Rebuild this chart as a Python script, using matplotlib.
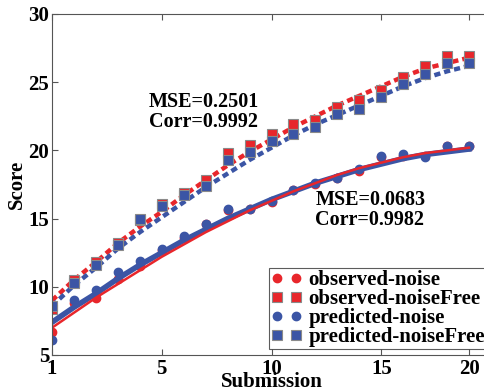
import matplotlib
matplotlib.use('Agg')
import matplotlib.pyplot as plt
import numpy as np

# submissions index (tick "1" sits on the left edge)
submission = np.arange(20)
xtick_pos = [0, 5, 10, 15, 19]
xtick_labels = ['1', '5', '10', '15', '20']

obs_noise = [6.7, 8.8, 9.2, 10.6, 11.5, 12.7, 13.6, 14.6, 15.6, 15.7,
             16.2, 17.1, 17.5, 18.0, 18.5, 19.5, 19.6, 19.6, 20.3, 20.3]
obs_free = [8.4, 10.5, 11.8, 13.2, 14.9, 16.1, 16.9, 17.8, 19.8, 20.4,
            21.2, 21.9, 22.2, 23.2, 23.7, 24.4, 25.4, 26.2, 26.9, 26.9]
pred_noise = [6.1, 9.0, 9.8, 11.1, 11.9, 12.8, 13.7, 14.6, 15.7, 15.7,
              16.3, 17.1, 17.6, 18.0, 18.6, 19.6, 19.7, 19.5, 20.3, 20.3]
pred_free = [8.6, 10.3, 11.6, 13.1, 15.0, 15.9, 16.7, 17.4, 19.3, 19.9,
             20.7, 21.2, 21.7, 22.7, 23.0, 23.9, 24.9, 25.6, 26.4, 26.4]

# fitted curves read at each submission
fit_obs_noise = [7.0, 8.1, 9.2, 10.2, 11.2, 12.2, 13.1, 14.0, 14.8, 15.6,
                 16.3, 17.0, 17.6, 18.2, 18.7, 19.1, 19.5, 19.8, 20.0, 20.2]
fit_pred_noise = [7.4, 8.5, 9.5, 10.6, 11.6, 12.5, 13.4, 14.2, 15.0, 15.7,
                  16.4, 17.0, 17.6, 18.1, 18.6, 19.0, 19.4, 19.7, 19.9, 20.1]
fit_obs_free = [9.0, 10.5, 11.8, 13.2, 14.4, 15.5, 16.7, 17.8, 18.9, 19.9,
                20.8, 21.7, 22.5, 23.3, 24.0, 24.7, 25.4, 26.0, 26.4, 26.8]
fit_pred_free = [8.6, 10.1, 11.4, 12.8, 14.0, 15.1, 16.2, 17.3, 18.3, 19.3,
                 20.2, 21.1, 21.9, 22.6, 23.3, 24.0, 24.7, 25.3, 25.8, 26.2]

red = '#e8262b'
blue = '#3b55a5'
edge = '#8a8a8a'

plt.rcParams['font.family'] = ['Liberation Serif', 'DejaVu Serif']
plt.rcParams['font.weight'] = 'bold'

fig = plt.figure(figsize=(4.84, 3.88), dpi=100)
ax = fig.add_axes([52 / 484, 1 - 355 / 388, 439 / 484, 341 / 388])

ax.plot(submission, fit_obs_free, '--', color=red, lw=3.2, dashes=(1.4, 0.9))
ax.plot(submission, fit_pred_free, '--', color=blue, lw=3.2, dashes=(1.4, 0.9))

ax.plot(submission, obs_noise, 'o', color=red, ms=6, mec=red, label='observed-noise')
ax.plot(submission, obs_free, 's', color=red, ms=7, mec=edge, mew=0.8, label='observed-noiseFree')
ax.plot(submission, pred_noise, 'o', color=blue, ms=6, mec=blue, label='predicted-noise')
ax.plot(submission, pred_free, 's', color=blue, ms=7, mec=edge, mew=0.8, label='predicted-noiseFree')

ax.plot(submission, fit_pred_noise, '-', color=blue, lw=4.0)
ax.plot(submission, fit_obs_noise, '-', color=red, lw=1.8)

ax.set_xlim(0, 20)
ax.set_ylim(5, 30)
ax.set_xticks(xtick_pos)
ax.set_xticklabels(xtick_labels)
ax.set_yticks([5, 10, 15, 20, 25, 30])
ax.tick_params(direction='in', top=True, right=True, labelsize=15, length=4,
               color='#555555')
ax.tick_params(axis='x', pad=3)
ax.tick_params(axis='y', pad=2)
for s in ax.spines.values():
    s.set_color('#555555')

ax.set_xlabel('Submission', fontsize=15, fontweight='bold', labelpad=-5)
ax.set_ylabel('Score', fontsize=15, fontweight='bold', labelpad=1)

ax.text(4.4, 22.8, 'MSE=0.2501\nCorr=0.9992', fontsize=14.5, fontweight='bold',
        linespacing=1.0, va='center')
ax.text(12.0, 15.6, 'MSE=0.0683\nCorr=0.9982', fontsize=14.5, fontweight='bold',
        linespacing=1.0, va='center')

leg = fig.legend(loc='upper left', bbox_to_anchor=(269 / 484, 1 - 268 / 388),
                 numpoints=2, fontsize=15, frameon=True, fancybox=False,
                 borderpad=0.1, labelspacing=-0.05, handlelength=1.5,
                 handletextpad=0.3, borderaxespad=0)
leg.get_frame().set_edgecolor('#333333')
leg.get_frame().set_linewidth(0.8)

fig.savefig('out.png', dpi=100)
